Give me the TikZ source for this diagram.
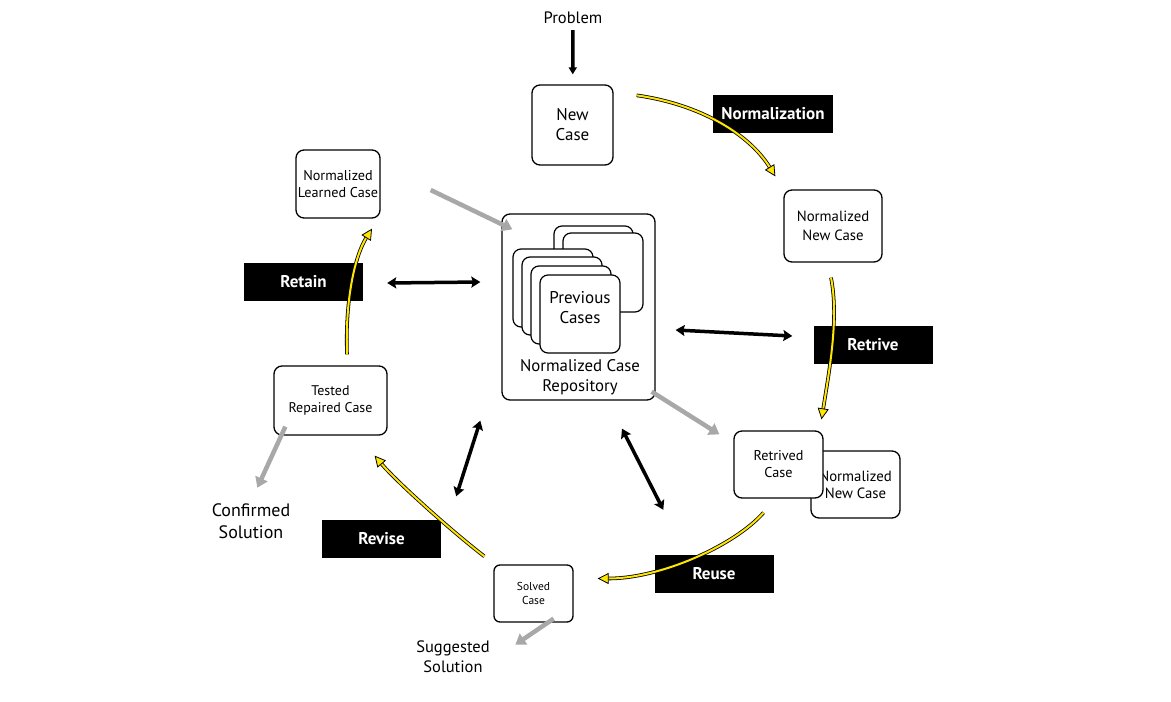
\documentclass[tikz,border=0pt]{standalone}
\usepackage{fontspec}
\setmainfont{PT Sans}
\usetikzlibrary{arrows.meta,calc}
\definecolor{yel}{HTML}{FFE600}
\definecolor{garr}{HTML}{A8A8A8}
\begin{document}
\begin{tikzpicture}[x=1pt,y=-1pt,
  box/.style={draw=black, line width=1.3pt, rounded corners=8pt, fill=white, align=center, inner sep=0pt},
  lbl/.style={fill=black, text=white, font=\bfseries\fontsize{17}{20}\selectfont, minimum width=119pt, minimum height=38pt, inner sep=0pt},
  txt/.style={align=center, inner sep=0pt},
  card/.style={draw=black, line width=1.2pt, rounded corners=8pt, fill=white},
  yarrow/.style={draw=black, line width=0.8pt, double=yel, double distance=2pt, -{Triangle[length=11pt,width=11pt,fill=yel,line width=0.8pt]}},
  garrow/.style={draw=garr, line width=4.5pt, -{Triangle[length=10pt,width=13pt]}},
  darrow/.style={draw=black, line width=3.5pt, {Stealth[length=9pt,width=11pt,inset=1.5pt]}-{Stealth[length=9pt,width=11pt,inset=1.5pt]}},
  barrow/.style={draw=black, line width=3.5pt, -{Triangle[length=7pt,width=8pt]}}
]
\fill[white] (0,0) rectangle (1171,702);
\useasboundingbox (0,0) rectangle (1171,702);

% text-only nodes
\node[txt, font=\fontsize{16.5}{19}\selectfont] (problem) at (573,18) {Problem};
\node[txt, font=\fontsize{18}{22}\selectfont] (confirmed) at (251,521) {Confirmed\\Solution};
\node[txt, font=\fontsize{16.5}{20}\selectfont] (suggested) at (453,657) {Suggested\\Solution};

% black labels
\node[lbl, minimum width=120pt] (normlbl) at (773,114) {Normalization};
\node[lbl] (retrive) at (873,345) {Retrive};
\node[lbl] (retain) at (303.5,282) {Retain};
\node[lbl] (revise) at (381.5,538.5) {Revise};
\node[lbl] (reuse) at (714,574) {Reuse};

% boxes
\node[box, minimum width=81pt, minimum height=80pt, font=\fontsize{17}{20}\selectfont] (nc) at (572.5,125) {New\\Case};
\node[box, minimum width=98pt, minimum height=72pt, font=\fontsize{14.8}{19}\selectfont] (nnc) at (833,226) {Normalized\\New Case};
\node[box, minimum width=84pt, minimum height=68pt, font=\fontsize{14.2}{17}\selectfont] (nlc) at (338,184) {Normalized\\Learned Case};
\node[box, minimum width=113pt, minimum height=69pt, font=\fontsize{14}{17.5}\selectfont] (trc) at (330.5,400.5) {Tested\\Repaired Case};
\node[box, minimum width=89pt, minimum height=67pt, font=\fontsize{14.8}{17}\selectfont] (nnctwo) at (855.5,484.5) {Normalized\\New Case};
\node[box, minimum width=89pt, minimum height=67pt, font=\fontsize{14.2}{17}\selectfont] (rc) at (778.5,464.5) {Retrived\\Case};
\node[box, rounded corners=6pt, minimum width=79pt, minimum height=57pt, font=\fontsize{11.5}{14}\selectfont] (sc) at (533.5,593.5) {Solved\\Case};

% repository
\node[box, minimum width=153pt, minimum height=186pt] (repo) at (578.5,307) {};
\draw[card] (554,226) rectangle (633,305);
\draw[card] (563,233) rectangle (643,312);
\draw[card] (513,249) rectangle (593,327);
\draw[card] (522,257) rectangle (602,335);
\draw[card] (531,266) rectangle (611,344);
\draw[card] (540,275) rectangle (620,353);
\node[txt, font=\fontsize{17}{20}\selectfont] (prev) at (580,308) {Previous\\Cases};
\node[txt, font=\fontsize{16.8}{20}\selectfont] (repotxt) at (580,377) {Normalized Case\\Repository};

% black arrows
\draw[barrow, shorten <=6pt, shorten >=10pt] (problem) -- (nc);
\draw[darrow] ($(retain.east)+(24,1)$) -- ($(repo.west)+(-21,-25)$);
\draw[darrow] ($(repo.east)+(20,23)$) -- ($(retrive.west)+(-21,-9)$);
\draw[darrow] ($(repo.south west)+(-21,20)$) -- ($(revise.north east)+(15,-23)$);
\draw[darrow] ($(repo.south)+(43.5,28)$) -- ($(reuse.north west)+(9,-45)$);

% gray arrows
\draw[garrow] ($(nlc.east)+(50,6)$) -- ($(repo.north west)+(11,16)$);
\draw[garrow] ($(repo.south east)+(-4,-9)$) -- ($(rc.north west)+(-14,4)$);
\draw[garrow] ($(trc.south west)+(12,-9)$) -- ($(trc.south west)+(-16,52)$);
\draw[garrow] ($(sc.south east)+(-20,-4)$) -- ($(sc.south west)+(22,22)$);

% yellow arrows
\draw[yarrow] ($(nc.north east)+(23,11)$) .. controls +(64,9) and +(-26,-42) .. ($(nnc.north west)+(-8,-13)$);
\draw[yarrow] ($(nnc.south)+(-2,15)$) .. controls +(8,40) and +(8,-50) .. ($(rc.north)+(43,-11)$);
\draw[yarrow] ($(rc.south)+(-15,14)$) .. controls +(-29,33) and +(63,0) .. ($(sc.east)+(24,-15)$);
\draw[yarrow] ($(sc.north west)+(-9,-8)$) .. controls +(-35,-27) and +(21,25) .. ($(trc.south east)+(-13,20)$);
\draw[yarrow] ($(trc.north)+(16.5,-11)$) .. controls +(-2,-55) and +(-17,27) .. ($(nlc.south)+(34,10)$);
\end{tikzpicture}
\end{document}
